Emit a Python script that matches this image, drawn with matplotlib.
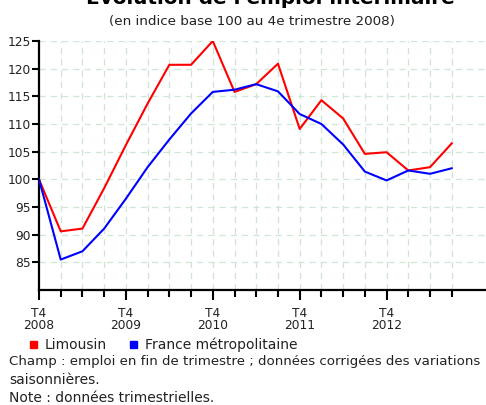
import matplotlib.pyplot as plt
from matplotlib.patches import Rectangle

# indices trimestriels, base 100 au T4 2008 (T4 2008 -> T3 2013)
limousin = [100.0, 90.6, 91.1, 98.4, 106.2, 113.7, 120.7, 120.7, 125.0, 115.8,
            117.2, 120.9, 109.1, 114.3, 111.0, 104.6, 104.9, 101.6, 102.2, 106.5]
france = [100.0, 85.5, 87.0, 91.1, 96.5, 102.2, 107.2, 111.9, 115.8, 116.2,
          117.2, 115.9, 111.8, 110.0, 106.3, 101.4, 99.8, 101.6, 101.0, 102.0]
year_labels = ["T4\n2008", "T4\n2009", "T4\n2010", "T4\n2011", "T4\n2012"]
y_ticks = [85, 90, 95, 100, 105, 110, 115, 120, 125]

W, H = 486, 405
fig = plt.figure(figsize=(W / 100, H / 100), dpi=100)
ax = fig.add_axes([39 / W, 1 - 290 / H, (W - 39) / W + 0.01, (290 - 41) / H])

x = list(range(len(limousin)))
ax.plot(x, limousin, color="#ff0000", lw=1.5, zorder=3)
ax.plot(x, france, color="#0000ff", lw=1.5, zorder=3)

ax.set_ylim(80, 125)
ax.set_xlim(0, 20.8)
ax.set_yticks(y_ticks)
ax.set_yticklabels([str(v) for v in y_ticks], fontsize=8.8, color="#222222")
ax.set_xticks(range(0, 20, 4))
ax.set_xticklabels(year_labels, fontsize=8.8, color="#222222", linespacing=0.95)
ax.set_xticks(range(20), minor=True)
ax.tick_params(axis="x", which="major", direction="out", length=7, width=1.5, pad=5)
ax.tick_params(axis="x", which="minor", direction="out", length=5, width=1.5)
ax.tick_params(axis="y", direction="out", length=5, width=1.5, pad=1)

for v in y_ticks:
    ax.axhline(v, color="#cfe8d6", lw=0.9, ls=(0, (5, 4)), zorder=1)
for i in range(1, 20):
    ax.axvline(i, color="#cfe3d6", lw=0.9, ls=(0, (5, 4)), zorder=1)

for s in ["top", "right"]:
    ax.spines[s].set_visible(False)
ax.spines["left"].set_linewidth(1.6)
ax.spines["bottom"].set_linewidth(1.6)

fig.text(270 / W, 1 + 3 / H, "Évolution de l'emploi intérimaire", ha="center", va="center",
         fontsize=14.4, fontweight="bold")
fig.text(252 / W, 1 - 21 / H, "(en indice base 100 au 4e trimestre 2008)", ha="center",
         va="center", fontsize=9.7, color="#222222")

# légende
ly = 1 - 345 / H
fig.patches.append(Rectangle((30 / W, ly - 3 / H), 7 / W, 7 / H, color="#ff0000",
                             transform=fig.transFigure, figure=fig))
fig.text(45 / W, ly, "Limousin", va="center", fontsize=10, color="#222222")
fig.patches.append(Rectangle((130 / W, ly - 3 / H), 7 / W, 7 / H, color="#0000ff",
                             transform=fig.transFigure, figure=fig))
fig.text(145 / W, ly, "France métropolitaine", va="center", fontsize=10, color="#222222")

fig.text(9 / W, 1 - 362 / H, "Champ : emploi en fin de trimestre ; données corrigées des variations",
         va="center", fontsize=9.6, color="#222222")
fig.text(9 / W, 1 - 380 / H, "saisonnières.", va="center", fontsize=10, color="#222222")
fig.text(9 / W, 1 - 398 / H, "Note : données trimestrielles.", va="center", fontsize=10, color="#222222")

fig.savefig("out.png", dpi=100)
